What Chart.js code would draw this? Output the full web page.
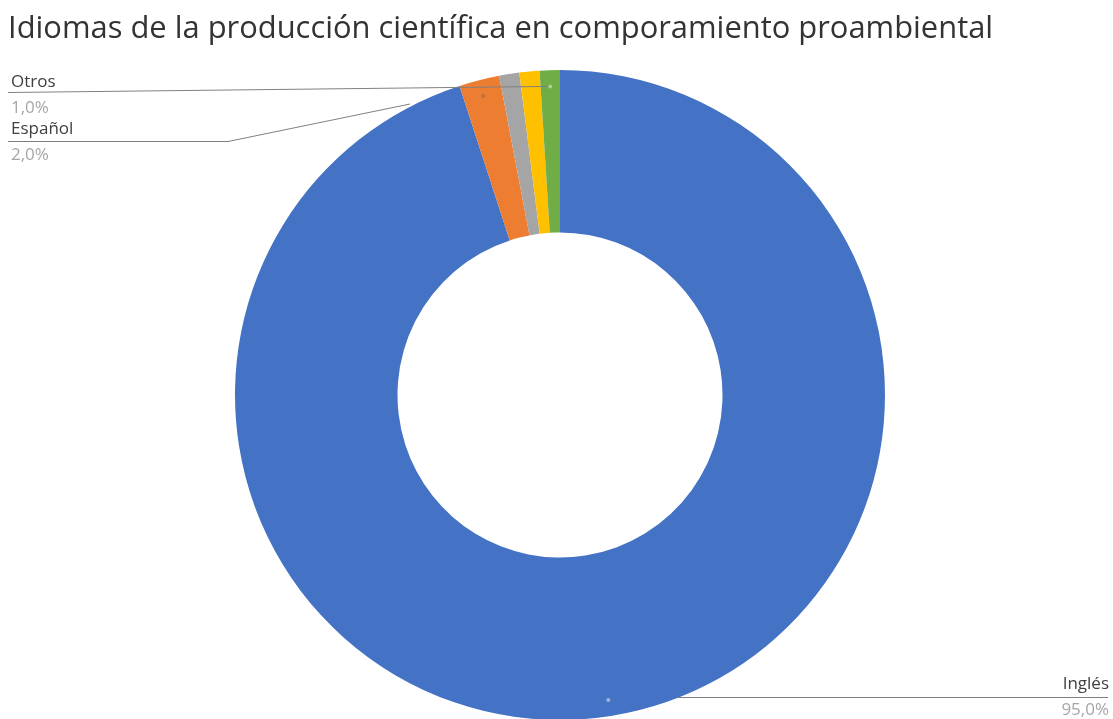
<!DOCTYPE html>
<html>
<head>
  <meta charset="UTF-8">
  <title>Idiomas de la producción científica</title>
  <script src="https://cdn.jsdelivr.net/npm/chart.js@4.4.1/dist/chart.umd.min.js"></script>
  <style>
    body { margin: 0; padding: 0; background: #fff; overflow: hidden; }
    #wrap { width: 1113px; height: 760px; }
  </style>
</head>
<body>
  <div id="wrap"><canvas id="pie" width="1113" height="760"></canvas></div>
  <script>
    const chartTitle = 'Idiomas de la producción científica en comporamiento proambiental';
    const languages = ['Inglés', 'Español', '', '', 'Otros'];
    const shares = [95, 2, 1, 1, 1];
    const sliceColors = ['#4472C4', '#ED7D31', '#A5A5A5', '#FFC000', '#70AD47'];

    const fmt = v => v.toFixed(1).replace('.', ',') + '%';

    // title and leader-line labels drawn by hand (Excel style)
    const labelPlugin = {
      id: 'excelLabels',
      afterDraw(chart) {
        const ctx = chart.ctx;
        const arcs = chart.getDatasetMeta(0).data;
        ctx.save();

        // title, sized to the reference width
        let size = 30;
        ctx.font = size + 'px "Open Sans", sans-serif';
        size = size * 985 / ctx.measureText(chartTitle).width;
        ctx.font = size.toFixed(1) + 'px "Open Sans", sans-serif';
        ctx.fillStyle = '#333333';
        ctx.textBaseline = 'alphabetic';
        ctx.textAlign = 'left';
        ctx.fillText(chartTitle, 8, 38);

        // dot at each labelled slice
        const dotAt = i => {
          const a = arcs[i];
          const mid = (a.startAngle + a.endAngle) / 2;
          const r = a.outerRadius * 0.95;
          return { x: a.x + Math.cos(mid) * r, y: a.y + Math.sin(mid) * r };
        };

        ctx.strokeStyle = '#808080';
        ctx.lineWidth = 1;

        // Otros
        const pO = dotAt(4);
        ctx.beginPath(); ctx.moveTo(8, 92.5); ctx.lineTo(pO.x, pO.y); ctx.stroke();
        // Español
        const pE = dotAt(1);
        ctx.beginPath(); ctx.moveTo(8, 141.5); ctx.lineTo(228, 141.5); ctx.lineTo(410, 104); ctx.stroke();
        // Inglés
        const pI = dotAt(0);
        ctx.beginPath(); ctx.moveTo(678, 697.5); ctx.lineTo(1108, 697.5); ctx.stroke();

        [[pO, '#a9cf92'], [pE, '#c0703a'], [pI, '#9fb3df']].forEach(([p, c]) => {
          ctx.fillStyle = c;
          ctx.beginPath(); ctx.arc(p.x, p.y, 2, 0, Math.PI * 2); ctx.fill();
        });

        ctx.font = '17px "Open Sans", sans-serif';
        const put = (name, val, x, y, align) => {
          ctx.textAlign = align;
          ctx.fillStyle = '#404040';
          ctx.fillText(name, x, y);
          ctx.fillStyle = '#a6a6a6';
          ctx.fillText(fmt(val), x, y + 26);
        };
        put(languages[4], shares[4], 11, 87, 'left');
        put(languages[1], shares[1], 11, 134, 'left');
        put(languages[0], shares[0], 1109, 689, 'right');

        ctx.restore();
      }
    };

    new Chart(document.getElementById('pie'), {
      type: 'doughnut',
      data: {
        labels: languages,
        datasets: [{
          data: shares,
          backgroundColor: sliceColors,
          borderWidth: 0
        }]
      },
      options: {
        responsive: false,
        animation: false,
        cutout: '50%',
        layout: { padding: { left: 235, right: 228, top: 70, bottom: 40 } },
        plugins: {
          legend: { display: false },
          tooltip: { enabled: false },
          title: { display: false }
        }
      },
      plugins: [labelPlugin]
    });
  </script>
</body>
</html>
